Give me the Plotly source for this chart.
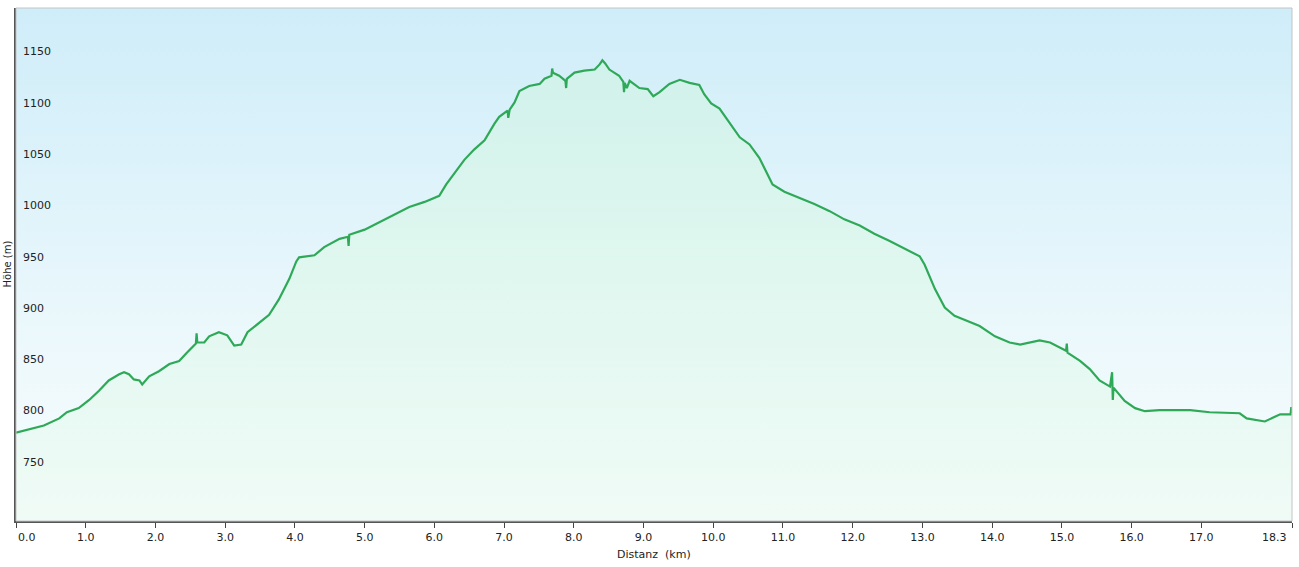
import plotly.graph_objects as go

# distance (km) and elevation (m)
dist_km = [
    0.0, 0.19, 0.4, 0.62, 0.73, 0.9, 1.05, 1.19, 1.33, 1.48, 1.55, 1.62, 1.69, 1.77,
    1.81, 1.91, 2.05, 2.2, 2.34, 2.45, 2.55, 2.58, 2.59, 2.6, 2.7, 2.77, 2.91, 3.03,
    3.13, 3.23, 3.32, 3.49, 3.63, 3.77, 3.92, 4.02, 4.06, 4.28, 4.42, 4.64, 4.76,
    4.77, 4.78, 5.0, 5.21, 5.43, 5.64, 5.86, 6.07, 6.17, 6.28, 6.43, 6.57, 6.72,
    6.86, 6.93, 7.05, 7.06, 7.08, 7.15, 7.22, 7.36, 7.51, 7.58, 7.68, 7.69, 7.7,
    7.79, 7.88, 7.89, 7.9, 8.01, 8.15, 8.3, 8.37, 8.41, 8.45, 8.51, 8.65, 8.71,
    8.72, 8.73, 8.76, 8.8, 8.94, 9.06, 9.14, 9.23, 9.37, 9.52, 9.66, 9.8, 9.87,
    9.97, 10.09, 10.23, 10.38, 10.52, 10.66, 10.74, 10.85, 11.02, 11.24, 11.45,
    11.67, 11.88, 12.1, 12.31, 12.53, 12.75, 12.96, 13.03, 13.18, 13.32, 13.46,
    13.61, 13.82, 14.04, 14.25, 14.4, 14.68, 14.83, 15.06, 15.07, 15.08, 15.26,
    15.4, 15.54, 15.69, 15.72, 15.73, 15.74, 15.9, 16.05, 16.19, 16.4, 16.84,
    17.12, 17.55, 17.65, 17.91, 18.13, 18.28, 18.29, 18.3,
]
elev_m = [
    786, 789, 793, 800, 806, 810, 818, 827, 837, 843, 845, 843, 838, 837,
    833, 841, 846, 853, 856, 864, 871, 873, 883, 874, 874, 880, 884, 881,
    871, 872, 884, 893, 901, 916, 936, 953, 957, 959, 967, 975, 977,
    968, 979, 984, 991, 999, 1006, 1011, 1017, 1028, 1038, 1052, 1062, 1071,
    1087, 1094, 1100, 1093, 1101, 1108, 1119, 1124, 1126, 1131, 1134, 1141, 1137,
    1134, 1129, 1122, 1131, 1137, 1139, 1140, 1145, 1149, 1146, 1140, 1134, 1128,
    1118, 1127, 1122, 1129, 1122, 1121, 1114, 1118, 1126, 1130, 1127, 1125, 1116,
    1107, 1102, 1088, 1074, 1067, 1054, 1043, 1028, 1021, 1015, 1009,
    1002, 994, 988, 980, 973, 965, 958, 950, 926, 908, 900,
    896, 890, 880, 874, 872, 876, 874, 866, 873, 864, 856,
    848, 837, 831, 845, 818, 830, 817, 810, 807, 808, 808,
    806, 805, 800, 797, 804, 804, 811, 805,
]

x_tick_vals = [0, 1, 2, 3, 4, 5, 6, 7, 8, 9, 10, 11, 12, 13, 14, 15, 16, 17, 18.3]
x_tick_text = ["0.0", "1.0", "2.0", "3.0", "4.0", "5.0", "6.0", "7.0", "8.0", "9.0",
               "10.0", "11.0", "12.0", "13.0", "14.0", "15.0", "16.0", "17.0", "18.3"]
y_tick_vals = [750, 800, 850, 900, 950, 1000, 1050, 1100, 1150]

X_MAX = 18.3
Y_MIN, Y_MAX = 700, 1200

fig = go.Figure()

# sky-coloured backdrop, drawn as a filled band over the whole plot
fig.add_trace(
    go.Scatter(
        x=[0, X_MAX],
        y=[Y_MAX, Y_MAX],
        mode="none",
        fill="tozeroy",
        fillgradient=dict(
            type="vertical",
            start=Y_MIN,
            stop=Y_MAX,
            colorscale=[[0, "#f6fcfd"], [0.3, "#eef9fc"], [1, "#cfedf9"]],
        ),
        showlegend=False,
        hoverinfo="skip",
    )
)

fig.add_trace(
    go.Scatter(
        x=dist_km,
        y=elev_m,
        mode="lines",
        line=dict(color="#2ea957", width=2.2),
        fill="tozeroy",
        fillgradient=dict(
            type="vertical",
            start=Y_MIN,
            stop=Y_MAX,
            colorscale=[[0, "#f0fbf6"], [0.5, "#dff7ef"], [1, "#cdf0ea"]],
        ),
        showlegend=False,
        hovertemplate="%{x:.2f} km<br>%{y} m<extra></extra>",
    )
)

# thin light frame on top/right
fig.add_shape(
    type="rect", xref="paper", yref="paper", x0=0, x1=1, y0=0, y1=1,
    line=dict(color="#c4c4c4", width=1), layer="above",
)

# y labels sit inside the plot, just above each grid line
for v in y_tick_vals:
    fig.add_annotation(
        x=0, xref="paper", y=v, yref="y", text=str(v), showarrow=False,
        xanchor="left", yanchor="bottom", xshift=5, yshift=-1,
        font=dict(size=11, color="#222"),
    )

# first and last x labels are pushed inward, like the original
axis_tick_text = list(x_tick_text)
for i, anchor, shift in [(0, "left", 0), (len(x_tick_vals) - 1, "right", -3)]:
    fig.add_annotation(
        x=x_tick_vals[i], xref="x", y=0, yref="paper", text=x_tick_text[i],
        showarrow=False, xanchor=anchor, yanchor="top", xshift=shift, yshift=-8,
        font=dict(size=11, color="#222"),
    )
    axis_tick_text[i] = ""

fig.add_annotation(
    x=0, xref="paper", y=0.5, yref="paper", text="Höhe (m)", textangle=-90,
    showarrow=False, xanchor="center", yanchor="middle", xshift=-9,
    font=dict(size=10, color="#222"),
)
fig.add_annotation(
    x=0.5, xref="paper", y=0, yref="paper", text="Distanz&nbsp;&nbsp;(km)",
    showarrow=False, xanchor="center", yanchor="middle", yshift=-33,
    font=dict(size=11, color="#222"),
)

fig.update_xaxes(
    range=[0, X_MAX],
    tickvals=x_tick_vals,
    ticktext=axis_tick_text,
    ticks="outside",
    ticklen=5,
    tickcolor="#444",
    showline=True,
    linecolor="#555",
    linewidth=2,
    showgrid=False,
    zeroline=False,
    automargin=False,
    tickfont=dict(size=11),
)
fig.update_yaxes(
    range=[Y_MIN, Y_MAX],
    tickvals=y_tick_vals,
    showticklabels=False,
    ticks="",
    showline=True,
    linecolor="#555",
    linewidth=2,
    showgrid=True,
    gridcolor="#b9cdd3",
    gridwidth=1,
    zeroline=False,
    automargin=False,
)

fig.update_layout(
    width=1299,
    height=567,
    margin=dict(l=16, r=7, t=8, b=46),
    paper_bgcolor="white",
    plot_bgcolor="white",
    font=dict(family="DejaVu Sans, Verdana, sans-serif", color="#222", size=11),
)

fig.write_html(
    "out.html",
    config={"displayModeBar": False},
    post_script="document.body.style.margin = '0px';",
)
